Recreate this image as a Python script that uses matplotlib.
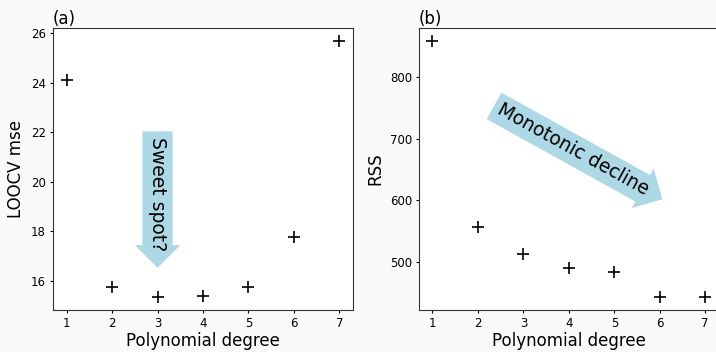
import numpy as np
import matplotlib
matplotlib.use("Agg")
import matplotlib.pyplot as plt

# polynomial degrees and the two error measures
degrees = [1, 2, 3, 4, 5, 6, 7]
loocv_mse = [24.10, 15.75, 15.33, 15.39, 15.73, 17.75, 25.68]
rss = [858.5, 557.8, 513.5, 491.3, 484.2, 444.1, 443.1]

fig = plt.figure(figsize=(7.16, 3.52), dpi=100, facecolor="#fafafa")
ax1 = fig.add_axes([0.074, 0.119, 0.419, 0.801])
ax2 = fig.add_axes([0.585, 0.119, 0.419, 0.801])

arrow_box = dict(boxstyle="rarrow,pad=0.3", fc="lightblue", ec="none")

for ax in (ax1, ax2):
    ax.tick_params(labelsize=8.5, length=2.5, pad=2.5)
    for sp in ax.spines.values():
        sp.set_color("#333333")

# (a) LOOCV
ax1.plot(degrees, loocv_mse, "k+", markersize=8, markeredgewidth=1.2)
ax1.set_xlabel("Polynomial degree", fontsize=12, labelpad=1.5)
ax1.set_ylabel("LOOCV mse", fontsize=12)
ax1.set_title("(a)", loc="left", fontsize=12, pad=2)
ax1.set_xticks(degrees)
ax1.text(3, 19.5, "Sweet spot?", ha="center", va="center", rotation=-90,
         fontsize=13.5, bbox=arrow_box)

# (b) RSS
ax2.plot(degrees, rss, "k+", markersize=8, markeredgewidth=1.2)
ax2.set_xlabel("Polynomial degree", fontsize=12, labelpad=1.5)
ax2.set_ylabel("RSS", fontsize=12)
ax2.set_title("(b)", loc="left", fontsize=12, pad=2)
ax2.set_xticks(degrees)
ax2.set_yticks([500, 600, 700, 800])
ax2.text(4.1, 682, "Monotonic decline", ha="center", va="center", rotation=-29,
         fontsize=13.5, bbox=arrow_box)

fig.savefig("out.png", dpi=100, facecolor=fig.get_facecolor())
